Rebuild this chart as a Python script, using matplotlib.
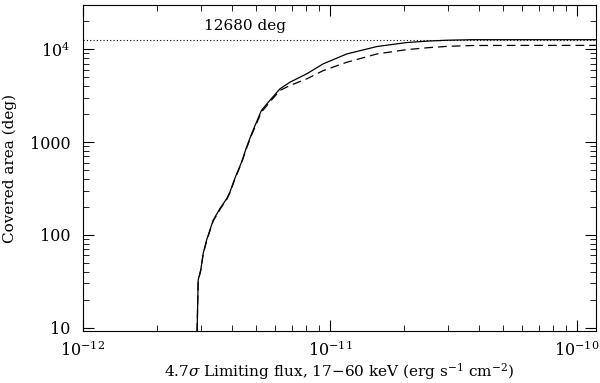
import matplotlib
matplotlib.use("Agg")
import matplotlib.pyplot as plt
from matplotlib.ticker import FixedLocator, FixedFormatter, LogLocator, NullFormatter

# limiting flux (erg s^-1 cm^-2) and covered area (deg^2)
flux_solid = [2.90e-12, 2.93e-12, 3.00e-12, 3.07e-12, 3.17e-12, 3.37e-12, 3.59e-12,
              3.82e-12, 3.94e-12, 4.12e-12, 4.39e-12, 4.60e-12, 4.82e-12, 5.28e-12,
              5.71e-12, 6.28e-12, 6.89e-12, 8.05e-12, 9.40e-12, 1.17e-11, 1.55e-11,
              2.04e-11, 2.5e-11, 3.0e-11, 3.79e-11, 6.0e-11, 1.19e-10]
area_solid = [9.0, 32.6, 41.7, 63, 88, 144, 192, 245, 290, 404, 609, 883, 1230, 2190,
              2810, 3750, 4415, 5430, 6970, 8900, 10700, 11800, 12250, 12520, 12680,
              12680, 12680]

flux_dash = [2.90e-12, 2.93e-12, 3.00e-12, 3.07e-12, 3.17e-12, 3.37e-12, 3.59e-12,
             3.82e-12, 3.94e-12, 4.12e-12, 4.39e-12, 4.60e-12, 4.82e-12, 5.28e-12,
             5.71e-12, 6.28e-12, 6.89e-12, 8.05e-12, 9.40e-12, 1.17e-11, 1.55e-11,
             2.04e-11, 2.5e-11, 3.0e-11, 3.79e-11, 6.0e-11, 1.19e-10]
area_dash = [9.0, 32.0, 41.0, 62, 86, 141, 188, 240, 284, 396, 595, 860, 1190, 2100,
             2700, 3600, 4070, 4790, 5890, 7240, 8900, 9900, 10400, 10750, 10970,
             11000, 11000]

total_area = 12680
ytick_vals = [10, 100, 1000, 1e4]
ytick_labels = ["10", "100", "1000", r"$10^4$"]
xtick_vals = [1e-12, 1e-11, 1e-10]
xtick_labels = [r"$10^{-12}$", r"$10^{-11}$", r"$10^{-10}$"]

plt.rcParams["font.family"] = "DejaVu Serif"
plt.rcParams["mathtext.fontset"] = "dejavuserif"

fig = plt.figure(figsize=(6, 3.83), dpi=100)
ax = fig.add_axes([0.138, 0.136, 0.855, 0.851])

ax.plot(flux_solid, area_solid, color="black", lw=0.9)
ax.plot(flux_dash, area_dash, color="black", lw=0.9, dashes=(7, 4))
ax.axhline(total_area, color="black", lw=0.8, ls=(0, (1, 2)))
ax.text(3.1e-12, 15000, f"{total_area} deg", fontsize=11, ha="left", va="bottom")

ax.set_xscale("log")
ax.set_yscale("log")
ax.set_xlim(1e-12, 1.19e-10)
ax.set_ylim(9.2, 3e4)

ax.xaxis.set_major_locator(FixedLocator(xtick_vals))
ax.xaxis.set_major_formatter(FixedFormatter(xtick_labels))
ax.yaxis.set_major_locator(FixedLocator(ytick_vals))
ax.yaxis.set_major_formatter(FixedFormatter(ytick_labels))
ax.xaxis.set_minor_locator(LogLocator(base=10, subs=range(2, 10)))
ax.yaxis.set_minor_locator(LogLocator(base=10, subs=range(2, 10)))
ax.xaxis.set_minor_formatter(NullFormatter())
ax.yaxis.set_minor_formatter(NullFormatter())

ax.tick_params(which="both", direction="in", top=True, right=True, labelsize=11.5)
ax.tick_params(which="major", length=8, width=0.8)
ax.tick_params(which="minor", length=4, width=0.6)
ax.tick_params(axis="x", pad=7)
ax.tick_params(axis="y", pad=9)

ax.set_xlabel(r"4.7$\sigma$ Limiting flux, 17$-$60 keV (erg s$^{-1}$ cm$^{-2}$)",
              fontsize=11, labelpad=1)
ax.set_ylabel("Covered area (deg)", fontsize=11, labelpad=9)

fig.savefig("out.png", dpi=100)
